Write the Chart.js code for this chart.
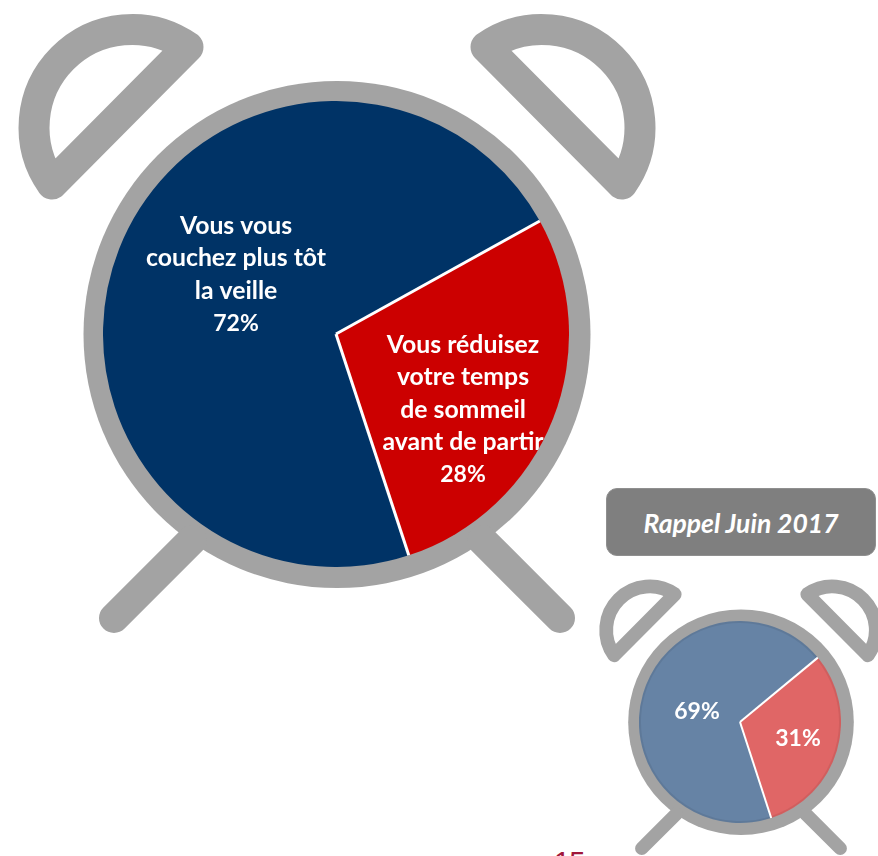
<!DOCTYPE html>
<html lang="fr">
<head>
<meta charset="utf-8">
<title>Sommeil avant le départ</title>
<script src="https://cdn.jsdelivr.net/npm/chart.js@4"></script>
<style>
  html, body { margin: 0; padding: 0; background: #fff; }
  #page { position: relative; width: 878px; height: 856px; overflow: hidden; font-family: Lato, "Open Sans", sans-serif; }
  #clocks { position: absolute; left: 0; top: 0; }
  canvas { position: absolute; }
  #mainPie { left: 103px; top: 101px; }
  #recallPie { left: 639px; top: 621px; }
  #badge {
    position: absolute; left: 606px; top: 488px; width: 270px; height: 68px;
    box-sizing: border-box; border-radius: 11px; background: #7f7f7f;
    border: 1px solid #8f8f8f;
    color: #fff; font-size: 26.5px; font-weight: 700; font-style: italic;
    line-height: 68px; text-align: center;
  }
  #pageNumber { position: absolute; left: 554px; top: 845px; color: #a0163a; font-size: 29px; line-height: 34px; font-family: "Liberation Sans", sans-serif; letter-spacing: -1px; }
</style>
</head>
<body>
<div id="page">
  <!-- alarm clock body, bells and feet sit behind the pies -->
  <svg id="clocks" width="878" height="856" viewBox="0 0 878 856">
    <defs>
      <g id="clock" fill="none" stroke="#a3a3a3" stroke-linecap="round" stroke-linejoin="round">
        <circle cx="337" cy="334.5" r="253.5" fill="#a3a3a3" stroke="none"/>
        <path d="M188 47 A98 98 0 0 0 52 184 Z" stroke-width="31"/>
        <path d="M486 47 A98 98 0 0 1 622 184 Z" stroke-width="31"/>
        <path d="M114 618 L192 540" stroke-width="30"/>
        <path d="M560 618 L482 540" stroke-width="30"/>
      </g>
    </defs>
    <use href="#clock"/>
    <use href="#clock" transform="translate(741 722) scale(0.445) translate(-337 -334)"/>
  </svg>

  <canvas id="mainPie" width="466" height="466"></canvas>
  <canvas id="recallPie" width="202" height="202"></canvas>

  <div id="badge">Rappel Juin 2017</div>
  <div id="pageNumber">15</div>
</div>

<script>
const mainLabels = [
  ["Vous réduisez", "votre temps", "de sommeil", "avant de partir"],
  ["Vous vous", "couchez plus tôt", "la veille"]
];
const mainValues = [28, 72];
const mainColors = ["#cc0000", "#003366"];

const recallLabels = [[], []];
const recallValues = [31, 69];
const recallColors = ["#e06666", "#6683a5"];

// draws the white separators, the optional rim and the text of each slice
const sliceText = {
  id: "sliceText",
  afterDatasetsDraw(chart, args, opts) {
    const ctx = chart.ctx;
    const arcs = chart.getDatasetMeta(0).data;
    const values = chart.data.datasets[0].data;
    const lines = chart.data.labels;

    arcs.forEach(arc => {
      if (opts.rim) {
        ctx.beginPath();
        ctx.arc(arc.x, arc.y, arc.outerRadius - 1, arc.startAngle, arc.endAngle);
        ctx.strokeStyle = opts.rim;
        ctx.lineWidth = 2;
        ctx.stroke();
      }
    });

    arcs.forEach(arc => {
      ctx.beginPath();
      ctx.moveTo(arc.x, arc.y);
      ctx.lineTo(arc.x + Math.cos(arc.startAngle) * arc.outerRadius, arc.y + Math.sin(arc.startAngle) * arc.outerRadius);
      ctx.strokeStyle = "#fff";
      ctx.lineWidth = opts.lineWidth;
      ctx.stroke();
    });

    // text that runs past the edge of the pie gets cut off
    ctx.save();
    ctx.beginPath();
    ctx.arc(arcs[0].x, arcs[0].y, arcs[0].outerRadius, 0, Math.PI * 2);
    ctx.clip();
    ctx.fillStyle = "#fff";
    ctx.textAlign = "center";
    ctx.textBaseline = "middle";
    arcs.forEach((arc, i) => {
      const [dx, dy] = opts.offsets[i];
      ctx.font = opts.font;
      lines[i].forEach((row, r) => {
        ctx.fillText(row, arc.x + dx, arc.y + dy + r * opts.lineHeight);
      });
      ctx.font = opts.percentFont;
      ctx.fillText(values[i] + "%", arc.x + dx, arc.y + dy + lines[i].length * opts.lineHeight);
    });
    ctx.restore();
  }
};

function makePie(id, labels, values, colors, rotation, textOptions) {
  return new Chart(document.getElementById(id), {
    type: "pie",
    data: {
      labels: labels,
      datasets: [{ data: values, backgroundColor: colors, borderWidth: 0 }]
    },
    options: {
      responsive: false,
      animation: false,
      rotation: rotation,
      layout: { padding: 0 },
      plugins: {
        legend: { display: false },
        tooltip: { enabled: false },
        sliceText: textOptions
      }
    },
    plugins: [sliceText]
  });
}

makePie("mainPie", mainLabels, mainValues, mainColors, 61, {
  font: "700 24.8px Lato",
  percentFont: "700 23px Lato",
  lineHeight: 32.5,
  lineWidth: 3,
  offsets: [[127, 11], [-100, -108]]
});

makePie("recallPie", recallLabels, recallValues, recallColors, 50.4, {
  font: "700 23px Lato",
  percentFont: "700 23px Lato",
  lineHeight: 32,
  lineWidth: 2,
  rim: "rgba(0,0,0,0.07)",
  offsets: [[58, 17], [-43, -10]]
});
</script>
</body>
</html>
